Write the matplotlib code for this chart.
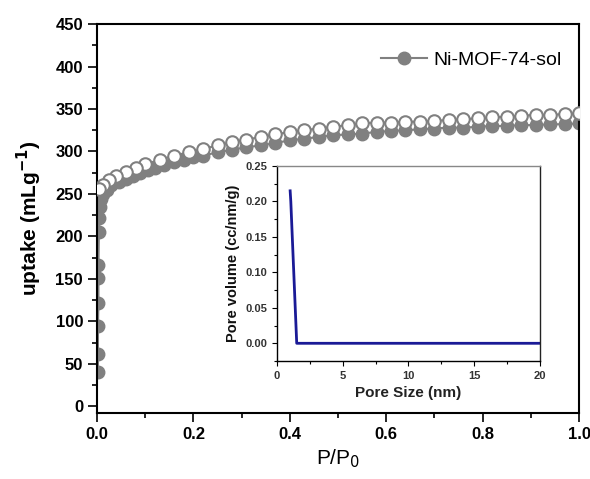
import numpy as np
import matplotlib.pyplot as plt
from matplotlib.ticker import MultipleLocator

plt.rcParams['font.family'] = ['Liberation Sans', 'DejaVu Sans']

# adsorption branch (filled)
ads_x = [0.002, 0.002, 0.002, 0.003, 0.003, 0.003, 0.004, 0.005, 0.006, 0.008,
         0.012, 0.02, 0.03, 0.045, 0.06, 0.075, 0.09, 0.105, 0.12, 0.14,
         0.16, 0.18, 0.20, 0.22, 0.25, 0.28, 0.31, 0.34, 0.37, 0.40,
         0.43, 0.46, 0.49, 0.52, 0.55, 0.58, 0.61, 0.64, 0.67, 0.70,
         0.73, 0.76, 0.79, 0.82, 0.85, 0.88, 0.91, 0.94, 0.97, 1.0]
ads_y = [40, 61, 95, 121, 151, 166, 205, 222, 235, 244,
         250, 255, 260, 264, 268, 271, 275, 278, 281, 284,
         287, 290, 293, 295, 299, 302, 305, 307, 310, 313,
         315, 317, 319, 320, 321, 323, 324, 325, 326, 327,
         328, 328, 329, 330, 330, 331, 331, 332, 332, 333]

# desorption branch (open)
des_x = [1.0, 0.97, 0.94, 0.91, 0.88, 0.85, 0.82, 0.79, 0.76, 0.73,
         0.70, 0.67, 0.64, 0.61, 0.58, 0.55, 0.52, 0.49, 0.46, 0.43,
         0.40, 0.37, 0.34, 0.31, 0.28, 0.25, 0.22, 0.19, 0.16, 0.13,
         0.10, 0.08, 0.06, 0.04, 0.025, 0.012, 0.005]
des_y = [345, 344, 343, 343, 342, 341, 340, 339, 338, 337,
         336, 335, 335, 334, 334, 333, 331, 329, 327, 325,
         323, 320, 317, 314, 311, 307, 303, 299, 295, 290,
         285, 280, 276, 271, 266, 261, 256]

# pore size distribution (inset)
pore_size = [1.0, 1.05, 1.5, 3, 5, 10, 15, 20]
pore_vol = [0.215, 0.20, 0.0, 0.0, 0.0, 0.0, 0.0, 0.0]

gray = '#808080'

fig = plt.figure(figsize=(5.9, 4.79), dpi=100)
ax = fig.add_axes([0.1644, 0.1378, 0.817, 0.812])

ax.plot(ads_x, ads_y, '-o', color=gray, mfc=gray, mec=gray, ms=9, lw=1.5,
        label='Ni-MOF-74-sol', zorder=2)
ax.plot(des_x, des_y, '-o', color=gray, mfc='white', mec=gray, ms=9, mew=1.5,
        lw=1.5, zorder=3)

ax.set_xlim(0, 1.0)
ax.set_ylim(-8, 450)
ax.xaxis.set_major_locator(MultipleLocator(0.2))
ax.xaxis.set_minor_locator(MultipleLocator(0.1))
ax.yaxis.set_major_locator(MultipleLocator(50))
ax.yaxis.set_minor_locator(MultipleLocator(25))
ax.tick_params(which='major', direction='out', length=6.5, width=1.2,
               labelsize=12, top=False, right=False)
ax.tick_params(which='minor', direction='out', length=3.5, width=1.2,
               top=False, right=False)
for lab in ax.get_xticklabels() + ax.get_yticklabels():
    lab.set_fontweight('bold')
ax.xaxis.set_major_formatter(plt.FuncFormatter(lambda v, p: f'{v:.1f}'))
for s in ax.spines.values():
    s.set_linewidth(1.5)

ax.set_xlabel('P/P$_0$', fontsize=15, labelpad=4)
ax.set_ylabel('uptake (mLg$^{\\mathbf{-1}}$)', fontsize=15, fontweight='bold', labelpad=8)

ax.legend(loc='upper right', frameon=False, fontsize=14, handlelength=2.4,
          handletextpad=0.3, borderaxespad=0.5, bbox_to_anchor=(1.0, 0.975))

# inset
ins = fig.add_axes([0.4695, 0.2463, 0.4455, 0.4071])
ins.plot(pore_size, pore_vol, color='#1a1a96', lw=2)
ins.set_xlim(0, 20)
ins.set_ylim(-0.025, 0.25)
ins.xaxis.set_major_locator(MultipleLocator(5))
ins.xaxis.set_minor_locator(MultipleLocator(2.5))
ins.yaxis.set_major_locator(MultipleLocator(0.05))
ins.yaxis.set_minor_locator(MultipleLocator(0.025))
ins.tick_params(which='major', direction='out', length=3.5, width=0.8,
                labelsize=8, labelcolor='#333333', top=False, right=False)
ins.tick_params(which='minor', direction='out', length=2, width=0.8,
                top=False, right=False)
for lab in ins.get_xticklabels() + ins.get_yticklabels():
    lab.set_fontweight('bold')
ins.yaxis.set_major_formatter(plt.FuncFormatter(lambda v, p: f'{v:.2f}'))
ins.spines['top'].set_color('#888888')
ins.spines['right'].set_color('#222222')
for s in ins.spines.values():
    s.set_linewidth(1.0)
ins.set_xlabel('Pore Size (nm)', fontsize=11, fontweight='bold', color='#222222')
ins.set_ylabel('Pore volume (cc/nm/g)', fontsize=10.5, fontweight='bold', color='#111111')

fig.savefig('out.png', dpi=100)
